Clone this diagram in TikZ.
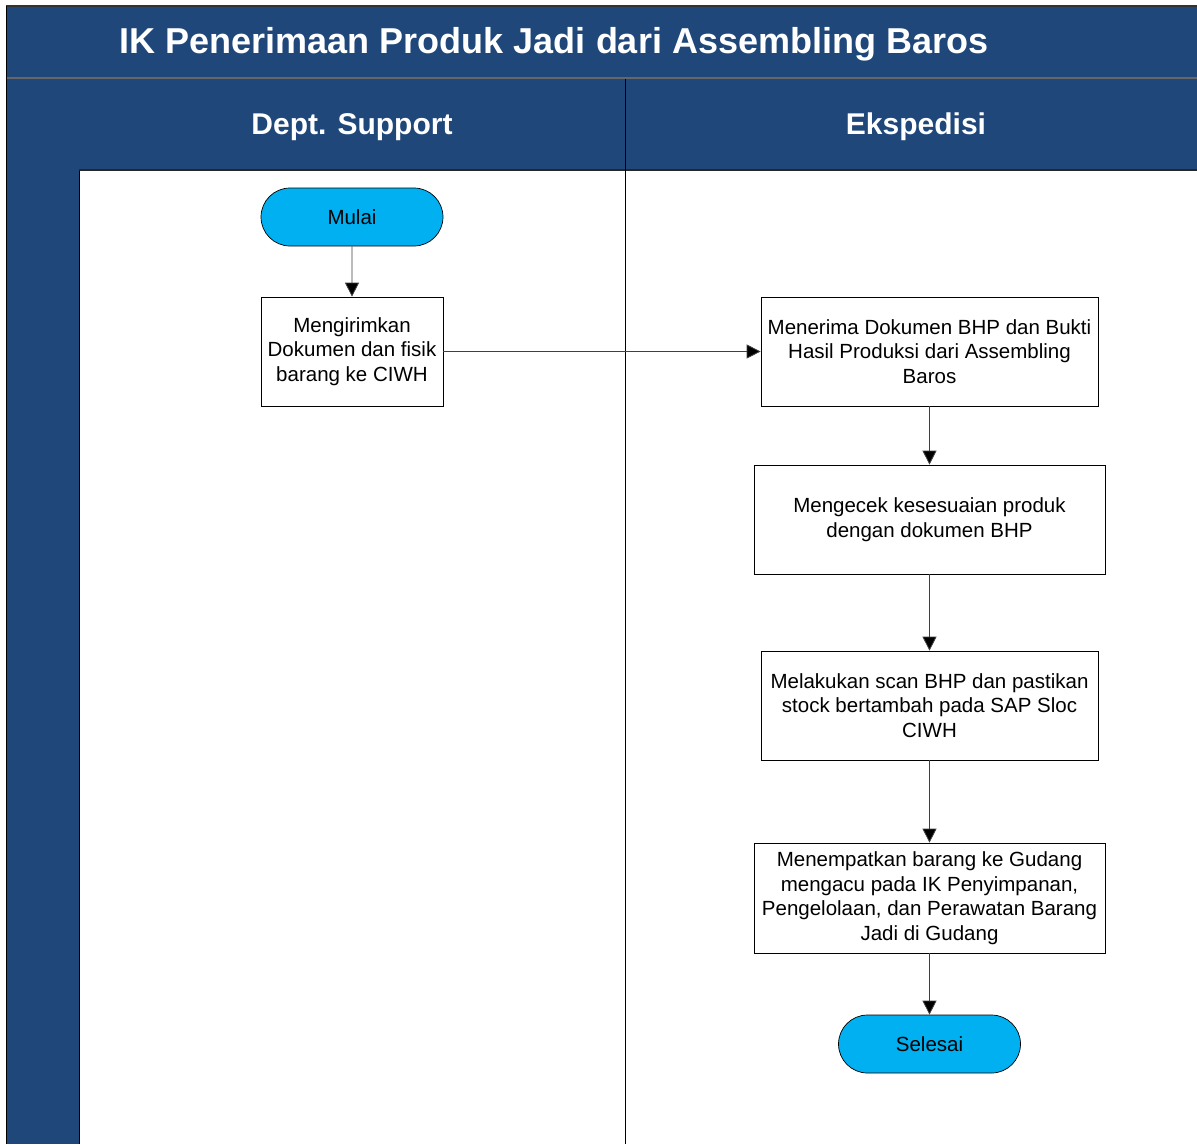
\documentclass[tikz,border=0pt]{standalone}
\usepackage{fontspec}
\setmainfont{Liberation Sans}
\usetikzlibrary{arrows.meta,shapes.misc}
\definecolor{navy}{RGB}{31,71,122}
\definecolor{cyanfill}{RGB}{0,176,240}
\begin{document}
\begin{tikzpicture}[x=1pt,y=-1pt,
  proc/.style={draw=black,fill=white,line width=0.7pt,rectangle,inner sep=0pt,align=center,
    font=\fontsize{20.5}{24.5}\selectfont},
  term/.style={draw=black,fill=cyanfill,line width=0.7pt,rounded rectangle,inner sep=0pt,
    minimum width=182pt,minimum height=58pt,font=\fontsize{20.5}{24.5}\selectfont},
  conn/.style={draw=black!75,line width=0.8pt,-{Triangle[length=14pt,width=14pt,fill=black]}}]
\useasboundingbox (0,0) rectangle (1197,1144);
% title band
\path[fill=navy] (6,6) rectangle (1197,78);
\draw[black!80,line width=1.5pt] (6,6) -- (1197,6);
\draw[black!60,line width=2pt] (6,78) -- (1197,78);
\node[text=white,font=\bfseries\fontsize{36}{40}\selectfont] (title) at (554,44) {IK Penerimaan Produk Jadi dari Assembling Baros};
% left column
\path[fill=navy] (6,79) rectangle (79,1144);
\draw[black,line width=1pt] (6,6) -- (6,1144);
\draw[black,line width=1pt] (79,79) -- (79,1144);
% lane headers
\path[fill=navy] (79,79) rectangle (1197,170);
\draw[black!85,line width=1.2pt] (79,170) -- (1197,170);
\draw[black,line width=1pt] (625,79) -- (625,1144);
\node[text=white,font=\bfseries\fontsize{30}{34}\selectfont] (lane1) at (352,127) {Dept. Support};
\node[text=white,font=\bfseries\fontsize{30}{34}\selectfont] (lane2) at (916,127) {Ekspedisi};
% nodes
\node[term] (mulai) at (352,217) {Mulai};
\node[proc,minimum width=182pt,minimum height=109pt] (b1) at (352,351.5) {Mengirimkan\\Dokumen dan fisik\\barang ke CIWH};
\node[proc,minimum width=337pt,minimum height=109pt] (b2) at (929.5,351.5) {Menerima Dokumen BHP dan Bukti\\Hasil Produksi dari Assembling\\Baros};
\node[proc,minimum width=351pt,minimum height=109pt] (b3) at (929.5,519.5) {Mengecek kesesuaian produk\\dengan dokumen BHP};
\node[proc,minimum width=337pt,minimum height=109pt] (b4) at (929.5,705.5) {Melakukan scan BHP dan pastikan\\stock bertambah pada SAP Sloc\\CIWH};
\node[proc,minimum width=351pt,minimum height=110pt] (b5) at (929.5,898) {Menempatkan barang ke Gudang\\mengacu pada IK Penyimpanan,\\Pengelolaan, dan Perawatan Barang\\Jadi di Gudang};
\node[term] (selesai) at (929.5,1044) {Selesai};
% connectors
\draw[conn] (mulai) -- (b1);
\draw[conn] (b1) -- (b2);
\draw[conn] (b2) -- (b3);
\draw[conn] (b3) -- (b4);
\draw[conn] (b4) -- (b5);
\draw[conn] (b5) -- (selesai);
\end{tikzpicture}
\end{document}
